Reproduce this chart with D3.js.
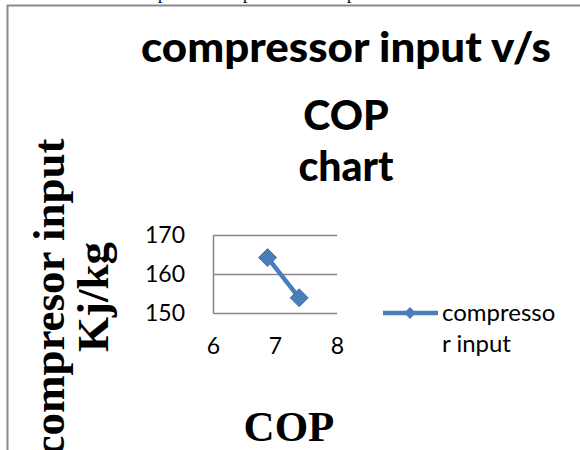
<!DOCTYPE html>
<html>
<head>
<meta charset="utf-8">
<script src="https://cdn.jsdelivr.net/npm/d3@7"></script>
<style>
  body { margin: 0; background: #fff; }
  svg { display: block; }
</style>
</head>
<body>
<div id="chart"></div>
<script>
// values
const cop = [6.88, 7.39];
const compressorInput = [164.2, 153.9];
const xTicks = [6, 7, 8];
const yTicks = [150, 160, 170];
const seriesName = ["compresso", "r input"];
const titleLines = ["compressor input v/s", "COP", "chart"];
const yTitleLines = ["compresor input", "Kj/kg"];
const xTitle = "COP";

const width = 580, height = 450;
const blue = "#4a7ebb";
const grid = "#868686";
const sans = "Lato, 'Open Sans', sans-serif";
const serif = "'Liberation Serif', 'Times New Roman', serif";

const svg = d3.select("#chart").append("svg")
    .attr("width", width)
    .attr("height", height);

svg.append("rect").attr("width", width).attr("height", height).attr("fill", "#fff");

// bits of document text cut off above the chart
svg.selectAll("text.cut")
    .data([158, 243, 347]).enter().append("text")
    .attr("class", "cut")
    .attr("x", d => d)
    .attr("y", -1)
    .attr("font-family", serif)
    .attr("font-size", 17)
    .text("p");

// chart frame
svg.append("rect")
    .attr("x", 7.5).attr("y", 5.5)
    .attr("width", 600).attr("height", 500)
    .attr("fill", "none")
    .attr("stroke", "#8a8a8a")
    .attr("stroke-width", 2);

// title
const titleY = [62, 130, 181];
const titleW = [410, null, null];
svg.selectAll("text.title")
    .data(titleLines).enter().append("text")
    .attr("class", "title")
    .attr("x", 346)
    .attr("y", (d, i) => titleY[i])
    .attr("text-anchor", "middle")
    .attr("font-family", sans)
    .attr("font-weight", 900)
    .attr("font-size", 41)
    .each(function(d, i) {
        if (titleW[i]) d3.select(this).attr("textLength", titleW[i]).attr("lengthAdjust", "spacingAndGlyphs");
    })
    .text(d => d);

// scales
const x = d3.scaleLinear().domain([6, 8]).range([213, 337]);
const y = d3.scaleLinear().domain([150, 170]).range([313, 235]);

// gridlines
svg.selectAll("line.grid")
    .data(yTicks).enter().append("line")
    .attr("x1", x(6)).attr("x2", x(8))
    .attr("y1", d => Math.round(y(d)) + 0.5)
    .attr("y2", d => Math.round(y(d)) + 0.5)
    .attr("stroke", grid)
    .attr("stroke-width", 1.5);

svg.append("line")
    .attr("x1", x(6) + 0.5).attr("x2", x(6) + 0.5)
    .attr("y1", y(170)).attr("y2", y(150))
    .attr("stroke", grid)
    .attr("stroke-width", 1.5);

// axes labels via d3 axes, domain and ticks hidden
const yAxis = svg.append("g")
    .attr("transform", `translate(${x(6)},0)`)
    .call(d3.axisLeft(y).tickValues(yTicks).tickFormat(d3.format("d")).tickSize(0).tickPadding(28));
const xAxis = svg.append("g")
    .attr("transform", `translate(0,${y(150)})`)
    .call(d3.axisBottom(x).tickValues(xTicks).tickFormat(d3.format("d")).tickSize(0).tickPadding(25));
[yAxis, xAxis].forEach(g => {
    g.select(".domain").remove();
    g.selectAll("text")
        .attr("font-family", sans)
        .attr("font-size", 23)
        .attr("fill", "#000");
});

// series line
const pts = cop.map((c, i) => [c, compressorInput[i]]);
svg.append("path")
    .datum(pts)
    .attr("fill", "none")
    .attr("stroke", blue)
    .attr("stroke-width", 4.5)
    .attr("d", d3.line().x(d => x(d[0])).y(d => y(d[1])));

const diamond = s => `M0,${-s}L${s},0L0,${s}L${-s},0Z`;
svg.selectAll("path.marker")
    .data(pts).enter().append("path")
    .attr("class", "marker")
    .attr("transform", d => `translate(${x(d[0])},${y(d[1])})`)
    .attr("d", diamond(9))
    .attr("fill", blue)
    .attr("stroke", "#4375b0")
    .attr("stroke-width", 1);

// legend
const legY = 313;
svg.append("line")
    .attr("x1", 383).attr("x2", 438)
    .attr("y1", legY).attr("y2", legY)
    .attr("stroke", blue)
    .attr("stroke-width", 4.5);
svg.append("path")
    .attr("transform", `translate(410,${legY})`)
    .attr("d", diamond(6))
    .attr("fill", blue);
svg.selectAll("text.leg")
    .data(seriesName).enter().append("text")
    .attr("class", "leg")
    .attr("x", 442)
    .attr("y", (d, i) => 321 + i * 31)
    .attr("font-family", sans)
    .attr("font-size", 24)
    .text(d => d);

// y axis title
svg.selectAll("text.ytitle")
    .data(yTitleLines).enter().append("text")
    .attr("class", "ytitle")
    .attr("transform", (d, i) => `translate(${[64, 108][i]},297) rotate(-90)`)
    .attr("text-anchor", "middle")
    .attr("font-family", serif)
    .attr("font-weight", "bold")
    .attr("font-size", 45)
    .text(d => d);

// x axis title
svg.append("text")
    .attr("x", 289)
    .attr("y", 441)
    .attr("text-anchor", "middle")
    .attr("font-family", serif)
    .attr("font-weight", "bold")
    .attr("font-size", 43)
    .text(xTitle);
</script>
</body>
</html>
